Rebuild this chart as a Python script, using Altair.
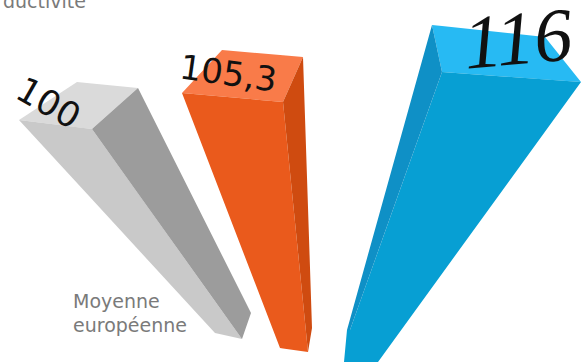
import altair as alt
import pandas as pd

# Productivity index by bar, with the European average as the 100 reference
labels = ["100", "105,3", "116"]
label_x = [48, 228, 518]
label_y = [104, 75, 41]
label_angle = [30, 8, 355]
label_size = [35, 34, 76]
label_style = ["normal", "normal", "italic"]
label_font = ["DejaVu Sans", "DejaVu Sans", "Liberation Serif"]

# Faces of each prism, in drawing order: fill colour, then outline
face_colors = ["#dadada", "#c9c9c9", "#9c9c9c",
               "#f97b49", "#ea5a1c", "#cf4b10",
               "#27baf3", "#079fd3", "#0f90c6"]
face_outlines = [
    [(19, 120), (77, 82), (138, 88), (92, 129)],
    [(19, 120), (92, 129), (242, 339), (215, 333)],
    [(92, 129), (138, 88), (251, 313), (242, 339)],
    [(182, 93), (222, 50), (303, 57), (283, 102)],
    [(182, 93), (283, 102), (308, 352), (280, 348)],
    [(283, 102), (303, 57), (312, 328), (308, 352)],
    [(432, 25), (545, 37), (581, 82), (442, 72)],
    [(442, 72), (581, 82), (378, 362), (344, 362), (347, 330), (350, 330)],
    [(432, 25), (442, 72), (350, 330), (347, 330)],
]


def envelope(points, x):
    """Top and bottom edge of an outline at position x."""
    hits = []
    n = len(points)
    for i in range(n):
        (x0, y0), (x1, y1) = points[i], points[(i + 1) % n]
        if min(x0, x1) <= x <= max(x0, x1):
            if x0 == x1:
                hits += [y0, y1]
            else:
                hits.append(y0 + (y1 - y0) * (x - x0) / (x1 - x0))
    return min(hits), max(hits)


x_scale = alt.Scale(domain=[0, 581], range=[0, 581], nice=False)
y_scale = alt.Scale(domain=[0, 362], range=[0, 362], nice=False)
x_enc = alt.X("px:Q", scale=x_scale, axis=None)
y_enc = alt.Y("py:Q", scale=y_scale, axis=None)

layers = []
for color, outline in zip(face_colors, face_outlines):
    rows = []
    for x in sorted({p[0] for p in outline}):
        top, bottom = envelope(outline, x)
        rows.append({"px": x, "py": top, "py2": bottom})
    layers.append(
        alt.Chart(pd.DataFrame(rows))
        .mark_area(color=color, opacity=1, interpolate="linear")
        .encode(x=x_enc, y=alt.Y("py:Q", scale=y_scale, axis=None, stack=None), y2="py2:Q")
    )

for text, x, y, angle, size, style, font in zip(
    labels, label_x, label_y, label_angle, label_size, label_style, label_font
):
    layers.append(
        alt.Chart(pd.DataFrame({"px": [x], "py": [y], "t": [text]}))
        .mark_text(angle=angle, fontSize=size, fontStyle=style, font=font,
                   color="#111111", align="center", baseline="middle")
        .encode(x=x_enc, y=y_enc, text="t:N")
    )

captions = pd.DataFrame({
    "px": [73, 73, 3],
    "py": [302, 326, 2],
    "t": ["Moyenne", "européenne", "ductivité"],
})
layers.append(
    alt.Chart(captions)
    .mark_text(font="DejaVu Sans", fontSize=19, color="#7a7a7a", align="left", baseline="middle")
    .encode(x=x_enc, y=y_enc, text="t:N")
)

chart = (
    alt.layer(*layers)
    .properties(width=581, height=362, padding=0, background="white",
                autosize=alt.AutoSizeParams(type="none"))
    .configure_view(stroke=None)
)

chart.save("out.html", embed_options={"renderer": "svg", "actions": False})
